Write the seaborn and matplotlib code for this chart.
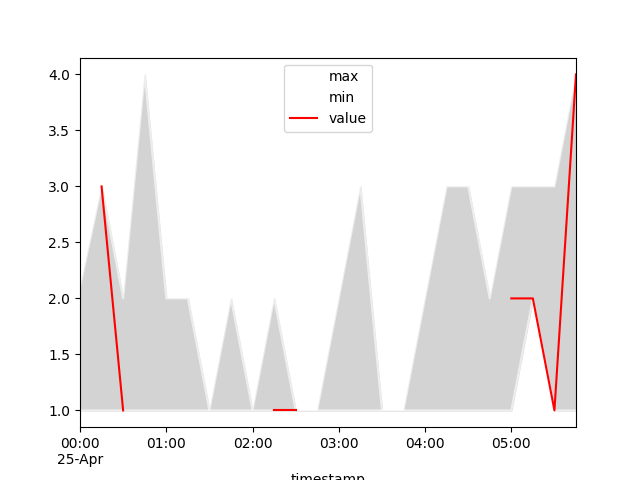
import numpy as np
import pandas as pd
import matplotlib
matplotlib.use('Agg')
import matplotlib.pyplot as plt
import matplotlib.dates as mdates
from matplotlib.lines import Line2D
from matplotlib.ticker import FuncFormatter
import seaborn as sns

# dados (intervalos de 15 min)
timestamps = pd.date_range('2023-04-25 00:00', periods=24, freq='15min')
max_vals = [2.1, 3, 2, 4, 2, 2, 1, 2, 1, 2, 1, 1, 2, 3, 1, 1, 2, 3, 3, 2, 3, 3, 3, 4]
min_vals = [1, 1, 1, 1, 1, 1, 1, 1, 1, 1, 1, 1, 1, 1, 1, 1, 1, 1, 1, 1, 1, 2, 1, 1]
value_vals = [np.nan, 3, 1, np.nan, np.nan, np.nan, np.nan, np.nan, np.nan, 1, 1, np.nan,
              np.nan, np.nan, np.nan, np.nan, np.nan, np.nan, np.nan, np.nan, 2, 2, 1, 4]

df = pd.DataFrame({'timestamp': timestamps, 'max': max_vals, 'min': min_vals, 'value': value_vals})
# segmentos para manter as lacunas da serie 'value'
df['seg'] = df['value'].isna().cumsum()

fig, ax = plt.subplots(figsize=(6.4, 4.8), dpi=100)

ax.fill_between(df['timestamp'], df['min'], df['max'], color='lightgray')
sns.lineplot(data=df, x='timestamp', y='max', color='white', linewidth=1.5, alpha=0.6, ax=ax)
sns.lineplot(data=df, x='timestamp', y='min', color='white', linewidth=1.5, alpha=0.6, ax=ax)
sns.lineplot(data=df.dropna(subset=['value']), x='timestamp', y='value', units='seg',
             estimator=None, color='red', linewidth=1.5, ax=ax)

ax.set_xlim(timestamps[0], timestamps[-1])
ax.set_ylabel('')
ax.set_xlabel('timestamp')

ax.xaxis.set_major_locator(mdates.HourLocator())
ax.xaxis.set_minor_locator(mdates.MinuteLocator(byminute=[0]))


def fmt_hora(x, pos):
    d = mdates.num2date(x)
    if d.hour == 0 and d.minute == 0:
        return d.strftime('%H:%M\n%d-%b')
    return d.strftime('%H:%M')


ax.xaxis.set_major_formatter(FuncFormatter(fmt_hora))
for lbl in ax.get_xticklabels():
    lbl.set_rotation(0)

handles = [Line2D([], [], color='white'), Line2D([], [], color='white'), Line2D([], [], color='red')]
ax.legend(handles, ['max', 'min', 'value'], loc='upper center')

fig.savefig('out.png', dpi=100)
